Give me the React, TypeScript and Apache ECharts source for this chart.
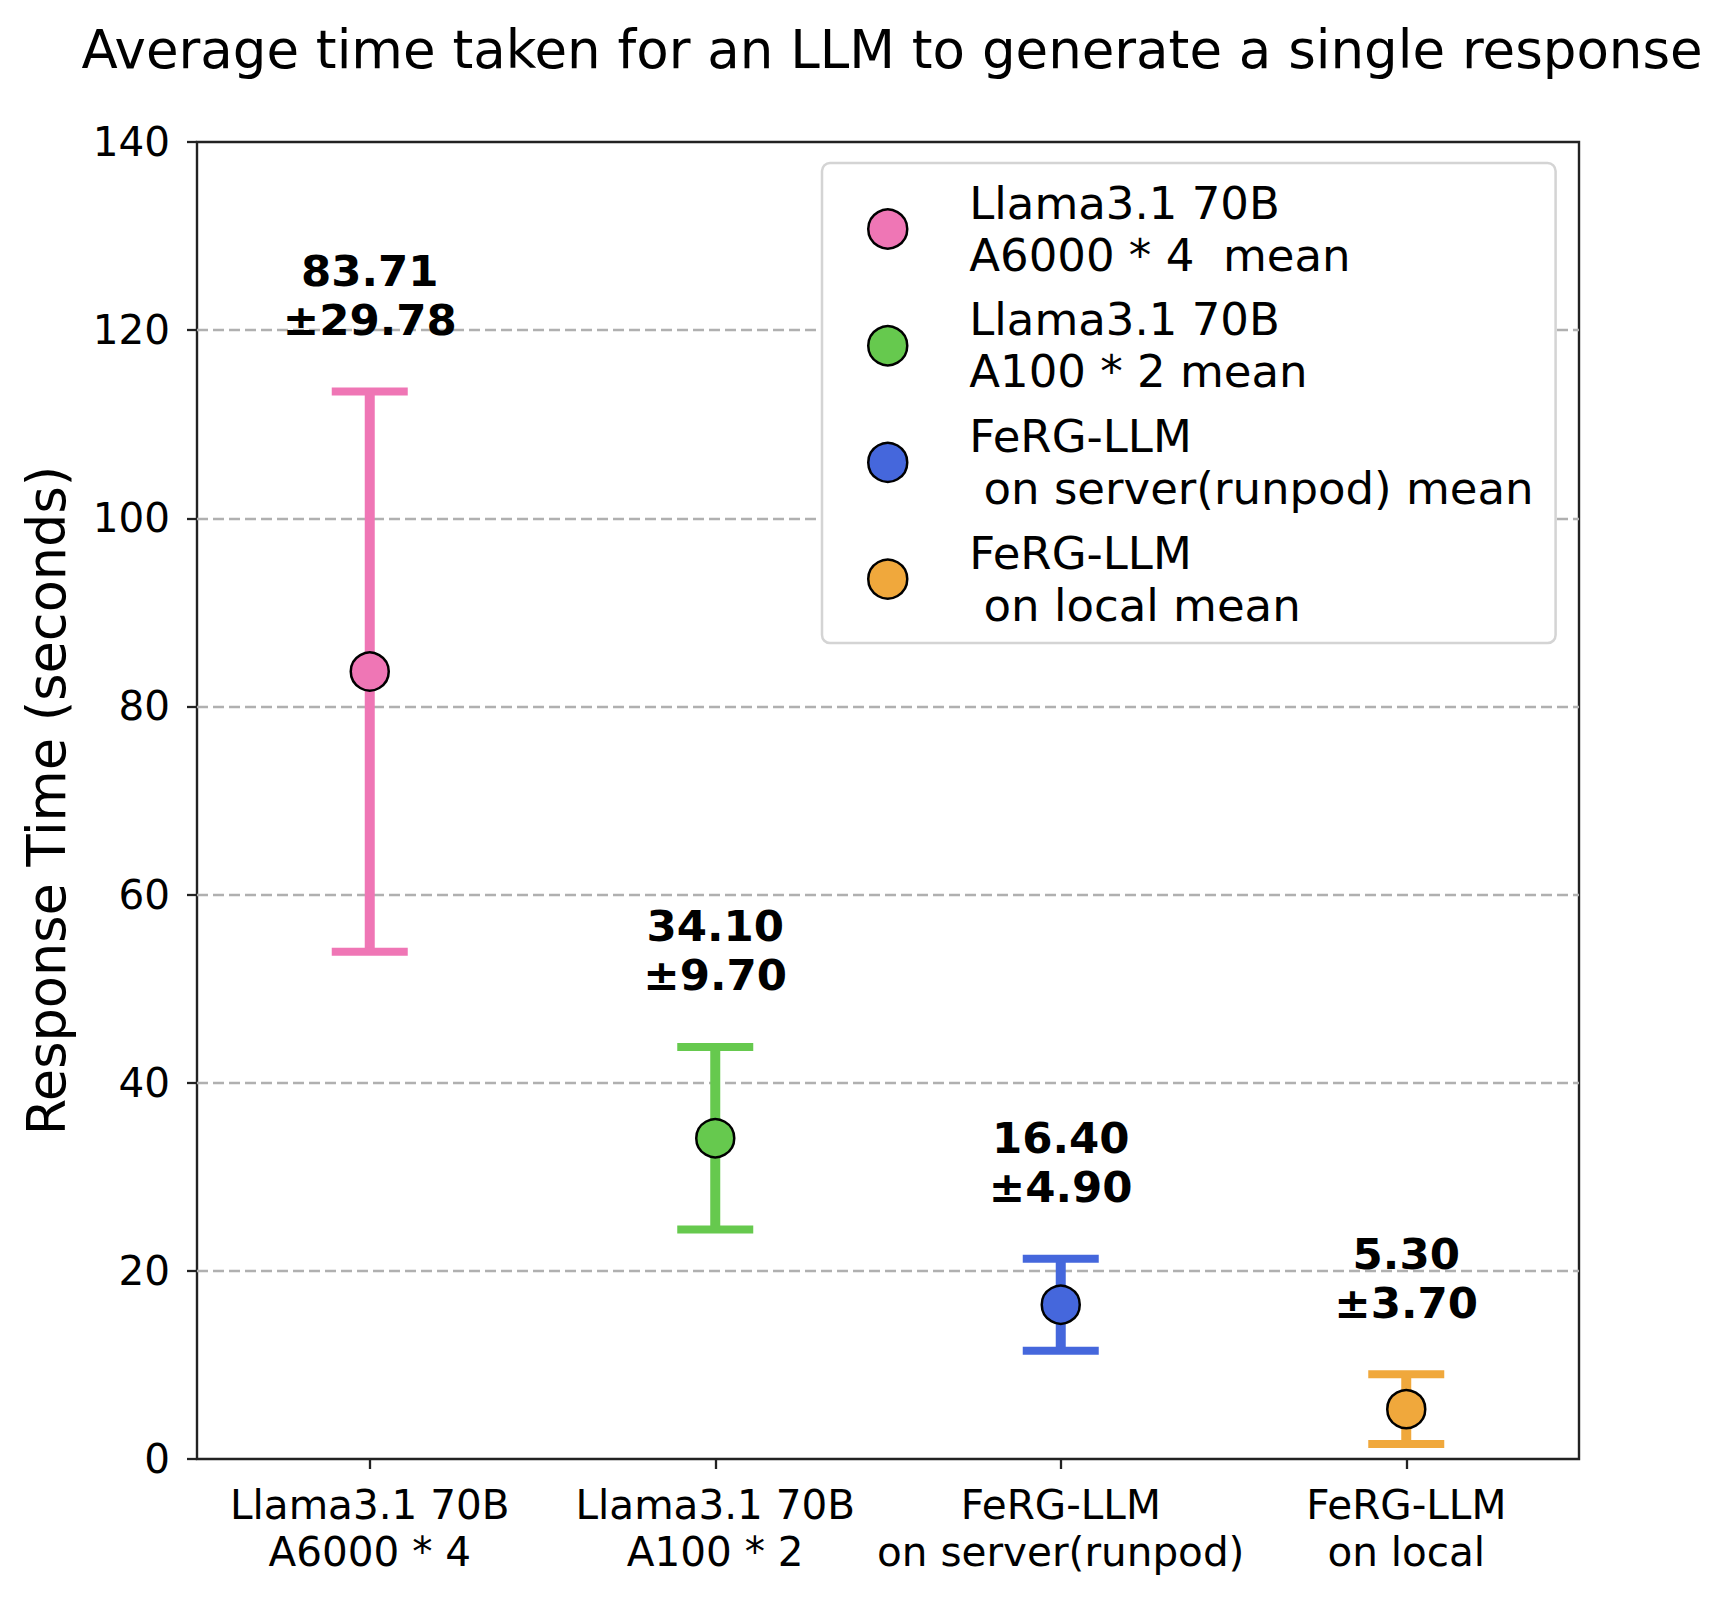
import React, { useEffect, useRef } from "react";
import * as echarts from "echarts";

const categories = [
  "Llama3.1 70B\nA6000 * 4",
  "Llama3.1 70B\nA100 * 2",
  "FeRG-LLM\non server(runpod)",
  "FeRG-LLM\non local",
];
const legendNames = [
  "Llama3.1 70B\nA6000 * 4  mean",
  "Llama3.1 70B\nA100 * 2 mean",
  "FeRG-LLM\n on server(runpod) mean",
  "FeRG-LLM\n on local mean",
];
const means = [83.71, 34.1, 16.4, 5.3];
const stds = [29.78, 9.7, 4.9, 3.7];
const colors = ["#EF76B5", "#66C94E", "#4567DC", "#F0A83C"];
const yTicks = { min: 0, max: 140, interval: 20 };
const titleText = "Average time taken for an LLM to generate a single response";
const yName = "Response Time (seconds)";

const FONT = "DejaVu Sans";

export default function App() {
  const ref = useRef<HTMLDivElement>(null);
  useEffect(() => {
    document.body.style.margin = "0";
    if (!ref.current) return;
    const chart = echarts.init(ref.current, undefined, { renderer: "svg" });
    const errRows = means.map((m, i) => [i, m - stds[i], m + stds[i], m, stds[i]]);
    const scatterSeries = means.map((m, i) => ({
      name: legendNames[i],
      type: "scatter",
      z: 5,
      data: [[i, m]],
      symbol: "circle",
      symbolSize: 38,
      itemStyle: { color: colors[i], borderColor: "#000", borderWidth: 2.5, opacity: 1 },
    }));
    const option: any = {
      animation: false,
      backgroundColor: "#fff",
      textStyle: { fontFamily: FONT },
      title: {
        text: titleText,
        left: 887,
        top: 18,
        textAlign: "center",
        textStyle: { fontFamily: FONT, fontSize: 53, fontWeight: "normal", color: "#000" },
      },
      grid: {
        left: 197,
        right: 141,
        top: 142,
        bottom: 143,
        show: true,
        borderColor: "#222",
        borderWidth: 2.4,
        backgroundColor: "transparent",
      },
      legend: {
        orient: "vertical",
        left: 822,
        top: 163,
        padding: [14, 22, 12, 45],
        itemWidth: 39,
        itemHeight: 39,
        itemGap: 12.7,
        backgroundColor: "#fff",
        borderColor: "#d4d4d4",
        borderWidth: 2.5,
        borderRadius: 8,
        data: legendNames.map((n) => ({ name: n, icon: "circle" })),
        itemStyle: { borderColor: "#000", borderWidth: 2.5 },
        textStyle: {
          fontFamily: FONT,
          fontSize: 45,
          lineHeight: 52,
          color: "#000",
          padding: [0, 0, 0, 57],
        },
      },
      xAxis: {
        type: "category",
        data: categories,
        boundaryGap: true,
        axisLine: { show: false },
        axisTick: { show: true, alignWithLabel: true, length: 10, lineStyle: { color: "#222", width: 2.3 } },
        axisLabel: {
          fontFamily: FONT,
          fontSize: 40.5,
          lineHeight: 47,
          color: "#000",
          margin: 22,
          interval: 0,
        },
        splitLine: { show: false },
      },
      yAxis: {
        type: "value",
        min: yTicks.min,
        max: yTicks.max,
        interval: yTicks.interval,
        name: yName,
        nameLocation: "middle",
        nameGap: 124,
        nameTextStyle: { fontFamily: FONT, fontSize: 52.5, color: "#000" },
        axisLine: { show: false },
        axisTick: { show: true, length: 10, lineStyle: { color: "#222", width: 2.3 } },
        axisLabel: { fontFamily: FONT, fontSize: 40.5, color: "#000", margin: 27 },
        splitLine: {
          show: true,
          showMinLine: false,
          showMaxLine: false,
          lineStyle: { color: "#b0b0b0", type: [11, 5], width: 2.3 },
        },
      },
      series: [
        {
          type: "custom",
          name: "errorbars",
          z: 3,
          data: errRows,
          encode: { x: 0, y: [1, 2] },
          renderItem: (params: any, api: any) => {
            const idx = params.dataIndex;
            const x = api.value(0);
            const lo = api.coord([x, api.value(1)]);
            const hi = api.coord([x, api.value(2)]);
            const lab = api.coord([x, api.value(2) + 5]);
            const half = 38;
            const c = colors[idx];
            const txt = `${Number(api.value(3)).toFixed(2)}\n±${Number(api.value(4)).toFixed(2)}`;
            return {
              type: "group",
              children: [
                {
                  type: "line",
                  shape: { x1: lo[0], y1: lo[1], x2: hi[0], y2: hi[1] },
                  style: { stroke: c, lineWidth: 10 },
                },
                {
                  type: "line",
                  shape: { x1: hi[0] - half, y1: hi[1], x2: hi[0] + half, y2: hi[1] },
                  style: { stroke: c, lineWidth: 8 },
                },
                {
                  type: "line",
                  shape: { x1: lo[0] - half, y1: lo[1], x2: lo[0] + half, y2: lo[1] },
                  style: { stroke: c, lineWidth: 8 },
                },
                {
                  type: "text",
                  x: lab[0],
                  y: lab[1],
                  style: {
                    text: txt,
                    fontFamily: FONT,
                    fontSize: 43.5,
                    fontWeight: "bold",
                    lineHeight: 49,
                    align: "center",
                    verticalAlign: "bottom",
                    fill: "#000",
                  },
                },
              ],
            };
          },
        },
        ...scatterSeries,
      ],
    };
    chart.setOption(option);
    return () => chart.dispose();
  }, []);
  return <div ref={ref} style={{ width: 1720, height: 1602 }} />;
}
